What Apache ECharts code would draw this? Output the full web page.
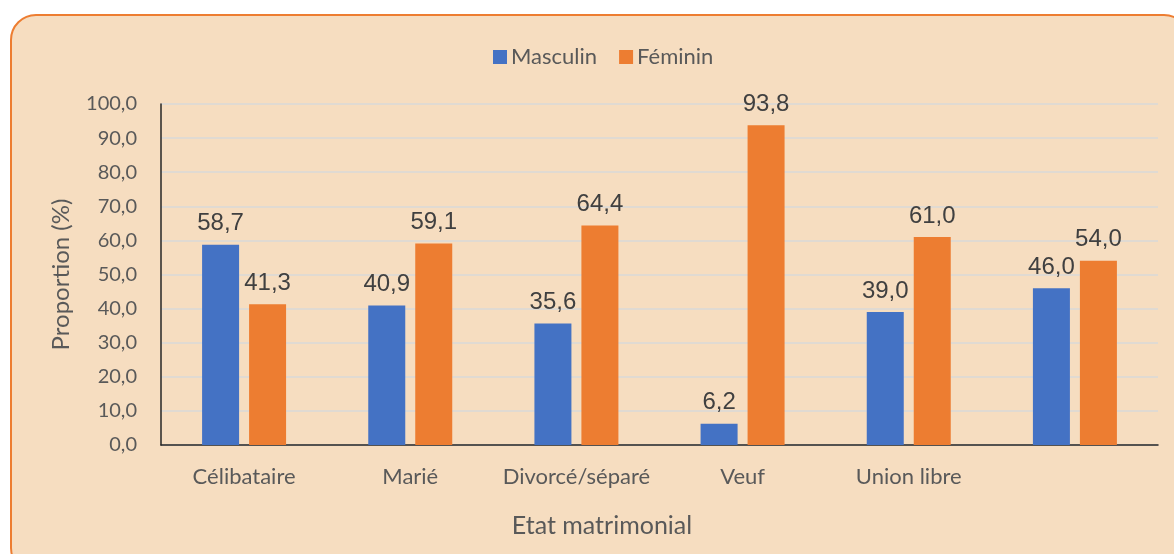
<!DOCTYPE html>
<html>
<head>
<meta charset="utf-8">
<script src="https://cdn.jsdelivr.net/npm/echarts@6/dist/echarts.min.js"></script>
<style>
    html, body { margin: 0; padding: 0; background: #ffffff; }
    #cadre {
        position: absolute; left: 10px; top: 14px; width: 1180px; height: 560px;
        background: #F6DDC0; border: 2px solid #ED7D31; border-radius: 26px; box-sizing: border-box;
    }
    #chartDiv { position: absolute; left: 0; top: 0; width: 1174px; height: 554px; }
</style>
</head>
<body>
<div id="cadre"></div>
<div id="chartDiv"></div>
<script>
// données du graphique
var categories = ["Célibataire", "Marié", "Divorcé/séparé", "Veuf", "Union libre", ""];
var masculin = [58.7, 40.9, 35.6, 6.2, 39.0, 46.0];
var feminin = [41.3, 59.1, 64.4, 93.8, 61.0, 54.0];
var yTicks = [0, 10, 20, 30, 40, 50, 60, 70, 80, 90, 100];

function virgule(v) {
    return Number(v).toFixed(1).replace('.', ',');
}

var chart = echarts.init(document.getElementById('chartDiv'));

var labelStyle = {
    show: true,
    position: 'top',
    distance: 9,
    color: '#404040',
    fontFamily: 'Liberation Sans',
    fontSize: 24,
    formatter: function (p) { return virgule(p.value); }
};

var option = {
    backgroundColor: 'transparent',
    animation: false,
    legend: {
        top: 41,
        left: 488,
        itemWidth: 14,
        itemHeight: 14,
        itemGap: 22,
        icon: 'rect',
        textStyle: { color: '#595959', fontFamily: 'Lato', fontSize: 22, padding: [0, 0, 0, -1] },
        data: ['Masculin', 'Féminin']
    },
    grid: { left: 161, right: 16, top: 104, bottom: 109 },
    xAxis: {
        type: 'category',
        data: categories,
        name: 'Etat matrimonial',
        nameLocation: 'middle',
        nameGap: 68,
        nameTextStyle: { color: '#595959', fontFamily: 'Lato', fontSize: 25, padding: [0, 115, 0, 0] },
        axisLine: { lineStyle: { color: '#262626', width: 1.5 } },
        axisTick: { show: false },
        axisLabel: { interval: 0, color: '#595959', fontFamily: 'Lato', fontSize: 22, margin: 21 }
    },
    yAxis: {
        type: 'value',
        min: yTicks[0],
        max: yTicks[yTicks.length - 1],
        interval: 10,
        name: 'Proportion (%)',
        nameLocation: 'middle',
        nameGap: 88,
        nameTextStyle: { color: '#595959', fontFamily: 'Lato', fontSize: 24 },
        axisLine: { show: true, lineStyle: { color: '#262626', width: 1.5 } },
        axisTick: { show: false },
        axisLabel: { color: '#595959', fontFamily: 'Lato', fontSize: 20, margin: 24, formatter: virgule },
        splitLine: { lineStyle: { color: '#D9D9D9', width: 1.5 } }
    },
    series: [
        {
            name: 'Masculin',
            type: 'bar',
            data: masculin,
            barWidth: 37,
            barGap: '27%',
            itemStyle: { color: '#4472C4' },
            label: labelStyle
        },
        {
            name: 'Féminin',
            type: 'bar',
            data: feminin,
            barWidth: 37,
            barGap: '27%',
            itemStyle: { color: '#ED7D31' },
            label: labelStyle
        }
    ]
};

chart.setOption(option);
</script>
</body>
</html>
